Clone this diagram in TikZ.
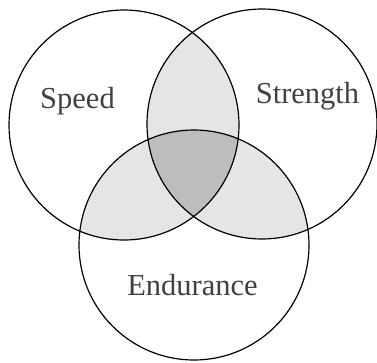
\documentclass[tikz,border=0pt]{standalone}
\usepackage{fontspec}
\setmainfont{Liberation Serif}
\definecolor{lightfill}{gray}{0.90}
\definecolor{darkfill}{gray}{0.74}
\definecolor{labelgray}{gray}{0.25}
\tikzset{
  ring/.style={draw=black, line width=1.2pt},
  setlabel/.style={text=labelgray, font=\fontsize{30.5}{32}\selectfont, anchor=base, inner sep=0pt}
}
\begin{document}
\begin{tikzpicture}[x=1pt,y=1pt]
\useasboundingbox (0,0) rectangle (377,362);
\fill[white] (0,0) rectangle (377,362);
\coordinate (L) at (124,237);
\coordinate (R) at (262,238);
\coordinate (B) at (194,117);
\def\rr{115pt}
% pairwise overlaps
\begin{scope}
  \clip (L) circle [radius=\rr];
  \fill[lightfill] (R) circle [radius=\rr];
  \fill[lightfill] (B) circle [radius=\rr];
\end{scope}
\begin{scope}
  \clip (R) circle [radius=\rr];
  \fill[lightfill] (B) circle [radius=\rr];
\end{scope}
% triple overlap
\begin{scope}
  \clip (L) circle [radius=\rr];
  \clip (R) circle [radius=\rr];
  \fill[darkfill] (B) circle [radius=\rr];
\end{scope}
\draw[ring] (L) circle [radius=\rr];
\draw[ring] (R) circle [radius=\rr];
\draw[ring] (B) circle [radius=\rr];
\node[setlabel] (speed) at (77.5,253) {Speed};
\node[setlabel] (strength) at (307.5,258) {Strength};
\node[setlabel] (endurance) at (192.5,67) {Endurance};
\end{tikzpicture}
\end{document}
